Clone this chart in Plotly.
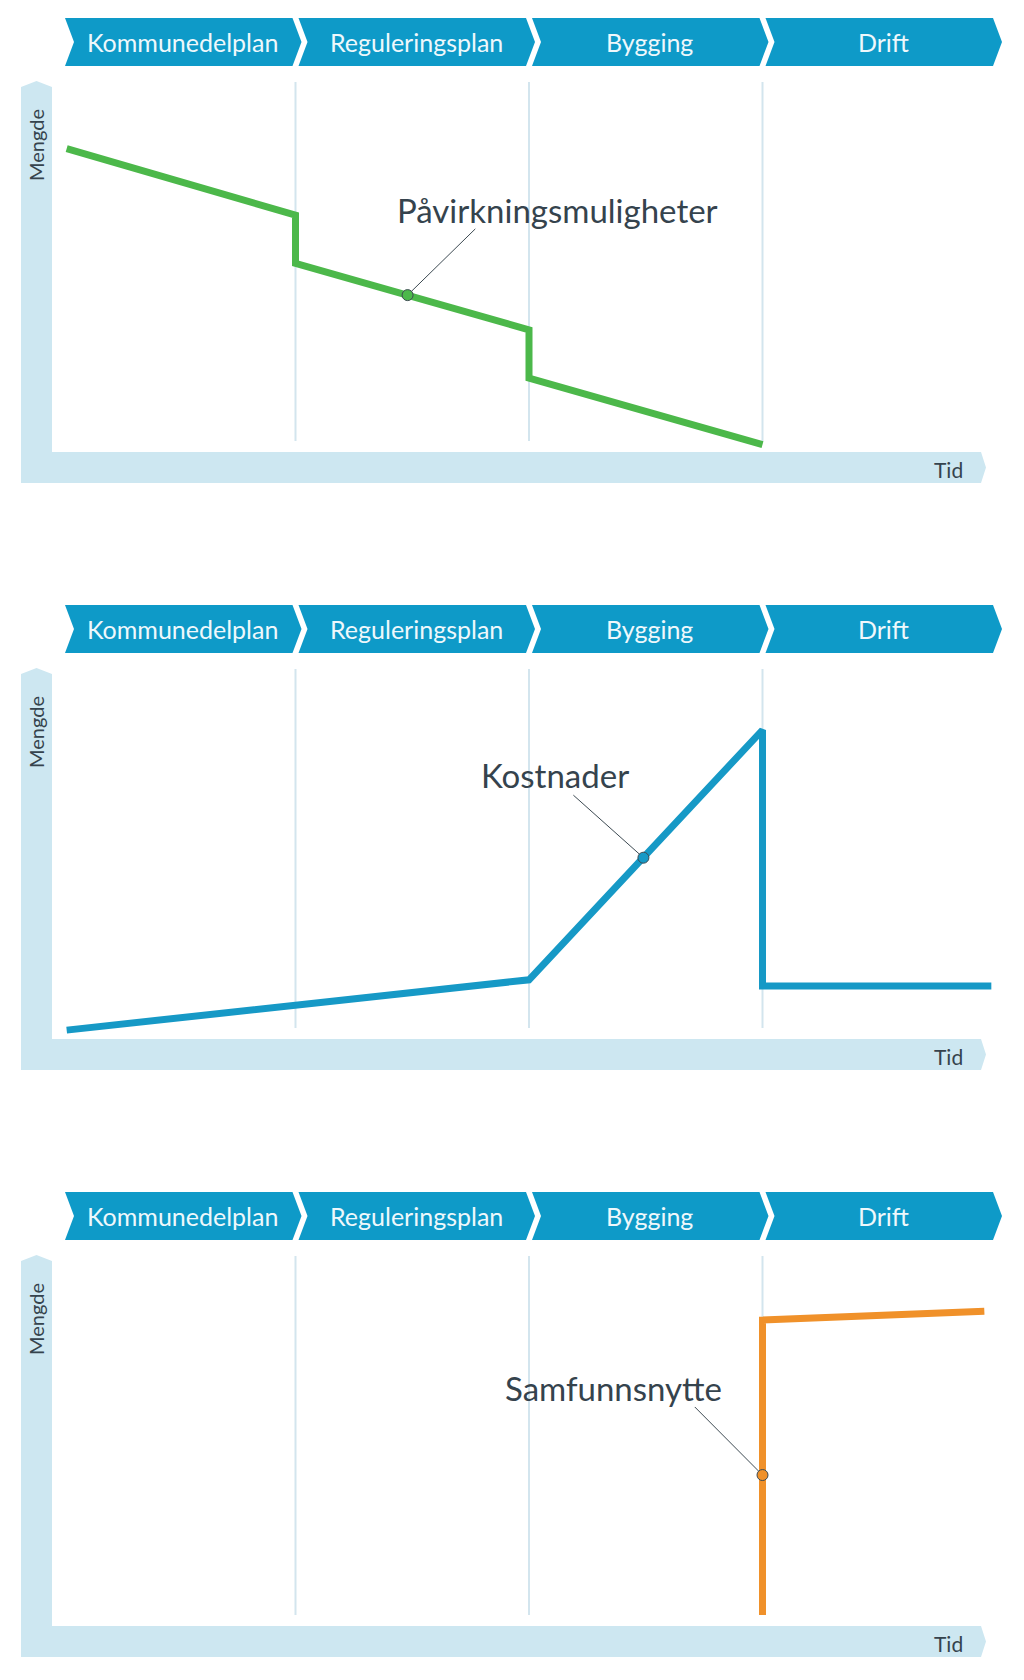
import plotly.graph_objects as go

# ---------------- data ----------------
phases = ["Kommunedelplan", "Reguleringsplan", "Bygging", "Drift"]
y_label = "Mengde"
x_label = "Tid"

series_names = ["Påvirkningsmuligheter", "Kostnader", "Samfunnsnytte"]
pav_x = [0.02, 1, 1, 2, 2, 3]
pav_y = [82, 64, 51, 33, 20, 2]
kost_x = [0.02, 2, 3, 3, 3.98]
kost_y = [2.4, 16, 83.5, 14.3, 14.3]
nytte_x = [3, 3, 3.95]
nytte_y = [3, 82.7, 85.1]
# point on each curve that the label points to
mark_x = [1.48, 2.49, 3.0]
mark_y = [42.4, 49.0, 40.8]
# label positions (data units)
label_x = [2.12, 2.11, 2.36]
label_y = [65.4, 71.4, 64.3]
leader_x = [1.77, 2.19, 2.71]
leader_y = [60.3, 65.9, 59.2]

series_x = [pav_x, kost_x, nytte_x]
series_y = [pav_y, kost_y, nytte_y]

# ---------------- styles ----------------
W, H = 1024, 1680
PX = 233.5          # pixels per phase
X0 = 62             # pixel of x = 0
PY = 3.7            # pixels per y unit
PANEL_STEP = 587
colors = ["#4cb84a", "#1699c6", "#f0912a"]
CHEV = "#0e9ac8"
BAND = "#cde7f1"
GRID = "#d3e5ee"
TXT = "#35434d"
FONT = "Lato"

def px2x(p):
    return (p - X0) / PX

xr = [px2x(0), px2x(W)]

fig = go.Figure()
layout = dict(width=W, height=H, margin=dict(l=0, r=0, t=0, b=0),
              paper_bgcolor="white", plot_bgcolor="white", showlegend=False)
shapes = []
annotations = []

for k in range(3):
    top_px = PANEL_STEP * k
    zero_px = 452 + PANEL_STEP * k
    bot_px = min(top_px + PANEL_STEP, H)
    yr = [-(bot_px - zero_px) / PY, (zero_px - top_px) / PY]
    dom = [1 - bot_px / H, 1 - top_px / H]
    xa = "xaxis" if k == 0 else f"xaxis{k+1}"
    ya = "yaxis" if k == 0 else f"yaxis{k+1}"
    xref = "x" if k == 0 else f"x{k+1}"
    yref = "y" if k == 0 else f"y{k+1}"
    layout[xa] = dict(domain=[0, 1], range=xr, visible=False, fixedrange=True, anchor=yref)
    layout[ya] = dict(domain=dom, range=yr, visible=False, fixedrange=True, anchor=xref)

    # axis band (L shape)
    bl, br = px2x(21), px2x(52)
    bt, bb = 0, -(483 - 452) / PY
    vt, vpk = (452 - 87) / PY, (452 - 81) / PY
    hr, htip = px2x(981), px2x(986)
    path = (f"M {bl},{bb} L {bl},{vt} L {(bl+br)/2},{vpk} L {br},{vt} L {br},{bt} "
            f"L {hr},{bt} L {htip},{(bt+bb)/2} L {hr},{bb} Z")
    shapes.append(dict(type="path", path=path, xref=xref, yref=yref,
                       fillcolor=BAND, line=dict(width=0), layer="below"))

    # vertical phase separators
    for b in range(1, 4):
        shapes.append(dict(type="line", xref=xref, yref=yref, x0=b, x1=b,
                           y0=(452 - 441) / PY, y1=100, line=dict(color=GRID, width=2),
                           layer="below"))

    # chevron header
    yt, ybm = (452 - 18) / PY, (452 - 66) / PY
    ym = (yt + ybm) / 2
    o = 1 / PX
    for i, name in enumerate(phases):
        l, r = i, i + 1
        p = (f"M {l+3*o},{yt} L {r-3*o},{yt} L {r+6*o},{ym} L {r-3*o},{ybm} "
             f"L {l+3*o},{ybm} L {l+12*o},{ym} Z")
        shapes.append(dict(type="path", path=p, xref=xref, yref=yref,
                           fillcolor=CHEV, line=dict(width=0)))
        annotations.append(dict(x=i + 0.5 + 4 * o, y=ym, xref=xref, yref=yref, text=name,
                                showarrow=False, xanchor="center", yanchor="middle",
                                font=dict(family=FONT, size=25, color="#eef8fc")))

    # axis labels
    annotations.append(dict(x=px2x(36), y=(452 - 145) / PY, xref=xref, yref=yref,
                            text=y_label, textangle=-90, showarrow=False,
                            xanchor="center", yanchor="middle",
                            font=dict(family=FONT, size=20, color=TXT)))
    annotations.append(dict(x=px2x(948), y=-(469 - 452) / PY, xref=xref, yref=yref,
                            text=x_label, showarrow=False, xanchor="center", yanchor="middle",
                            font=dict(family=FONT, size=21, color=TXT)))

    # the curve
    fig.add_trace(go.Scatter(x=series_x[k], y=series_y[k], mode="lines", xaxis=xref, yaxis=yref,
                             line=dict(color=colors[k], width=7, shape="linear"),
                             hoverinfo="skip"))
    # leader line
    fig.add_trace(go.Scatter(x=[mark_x[k], leader_x[k]], y=[mark_y[k], leader_y[k]], mode="lines",
                             xaxis=xref, yaxis=yref, line=dict(color="#3d4a52", width=1),
                             hoverinfo="skip"))
    # marker circle
    fig.add_trace(go.Scatter(x=[mark_x[k]], y=[mark_y[k]], mode="markers", xaxis=xref, yaxis=yref,
                             marker=dict(size=11, color=colors[k],
                                         line=dict(color="#3d4a52", width=1)),
                             hoverinfo="skip"))
    annotations.append(dict(x=label_x[k], y=label_y[k], xref=xref, yref=yref,
                            text=series_names[k], showarrow=False,
                            xanchor="center", yanchor="middle",
                            font=dict(family=FONT, size=33, color=TXT)))

layout["shapes"] = shapes
layout["annotations"] = annotations
fig.update_layout(**layout)
fig.write_html("out.html")
